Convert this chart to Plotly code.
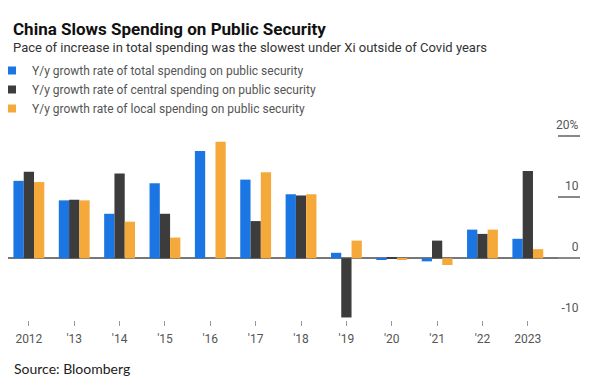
import plotly.graph_objects as go

# ---- data ----
years = ["2012", "'13", "'14", "'15", "'16", "'17", "'18", "'19", "'20", "'21", "'22", "2023"]
total = [12.7, 9.5, 7.3, 12.3, 17.6, 12.9, 10.5, 0.9, -0.2, -0.5, 4.7, 3.2]
central = [14.2, 9.6, 13.9, 7.3, 0.0, 6.1, 10.3, -9.7, 0.1, 2.9, 4.0, 14.3]
local = [12.5, 9.5, 6.0, 3.4, 19.1, 14.1, 10.5, 2.9, -0.2, -1.1, 4.7, 1.5]

names = [
    "Y/y growth rate of total spending on public security",
    "Y/y growth rate of central spending on public security",
    "Y/y growth rate of local spending on public security",
]
colors = ["#1b76e3", "#3c3c3c", "#f6a93b"]
y_ticks = [-10, 0, 10, 20]
y_ticktext = ["-10", "0", "10", "20%"]

# page body has an 8px margin: shift everything so the picture matches
OFF = 8
W, H = 600 - OFF, 387 - OFF
PX_PER_UNIT = 6.1
ZERO_PX = 258.3
L, R, T, B = 0, 580 - OFF, 108 - OFF, 320 - OFF  # plot area in px (figure coords)
Y_TOP = (ZERO_PX - (T + OFF)) / PX_PER_UNIT
Y_BOT = (ZERO_PX - (B + OFF)) / PX_PER_UNIT

def px_x(px):
    return (px - OFF - L) / (R - L)

def px_y(py):
    return (B - (py - OFF)) / (B - T)

fig = go.Figure()
for name, vals, col in zip(names, [total, central, local], colors):
    fig.add_trace(go.Bar(x=years, y=vals, name=name, marker_color=col,
                         marker_line_width=0, showlegend=False, legendgroup=name))
    fig.add_trace(go.Scatter(x=[None], y=[None], mode="markers", name=name,
                             legendgroup=name,
                             marker=dict(symbol="square", size=8, color=col)))

fig.update_layout(
    width=W, height=H,
    margin=dict(l=L, r=W - R, t=T, b=H - B, autoexpand=False),
    paper_bgcolor="white", plot_bgcolor="rgba(0,0,0,0)",
    barmode="group", bargap=0.32, bargroupgap=0,
    font=dict(family="Roboto", color="#555555", size=12),
    showlegend=True,
    legend=dict(xref="paper", yref="container", x=-16 / (R - L), y=1 - (56 - OFF) / H,
                xanchor="left", yanchor="top", bgcolor="rgba(0,0,0,0)",
                font=dict(size=12, color="#555555", family="Roboto"),
                itemclick=False, tracegroupgap=0),
    xaxis=dict(type="category", range=[-0.46 + 0.0, 12.15], showgrid=False,
               showline=False, zeroline=False, ticks="outside", ticklen=5,
               tickcolor="#999999", tickwidth=1, ticklabelstandoff=3,
               tickfont=dict(size=12, color="#555555")),
    yaxis=dict(range=[Y_BOT, Y_TOP], side="right", showgrid=False,
               zeroline=True, zerolinecolor="#777777", zerolinewidth=1.5,
               showline=False, tickvals=y_ticks, ticktext=y_ticktext,
               ticks="inside", ticklen=22, tickcolor="#888888", tickwidth=1.5,
               ticklabelposition="inside", ticklabelshift=-12, ticklabelstandoff=-21,
               tickfont=dict(size=12, color="#555555")),
    annotations=[
        dict(text="<b>China Slows Spending on Public Security</b>",
             xref="paper", yref="paper", x=px_x(12), y=px_y(28.5),
             xanchor="left", yanchor="middle", showarrow=False, borderpad=0,
             font=dict(family="Roboto", size=17, color="#111111")),
        dict(text="Pace of increase in total spending was the slowest under Xi outside of Covid years",
             xref="paper", yref="paper", x=px_x(12), y=px_y(47.5),
             xanchor="left", yanchor="middle", showarrow=False, borderpad=0,
             font=dict(family="Roboto", size=13, color="#333333")),
        dict(text="Source: Bloomberg",
             xref="paper", yref="paper", x=px_x(12), y=px_y(368),
             xanchor="left", yanchor="middle", showarrow=False,
             font=dict(family="Lato", size=14, color="#222222")),
    ],
)

fig.write_html("out.html")
